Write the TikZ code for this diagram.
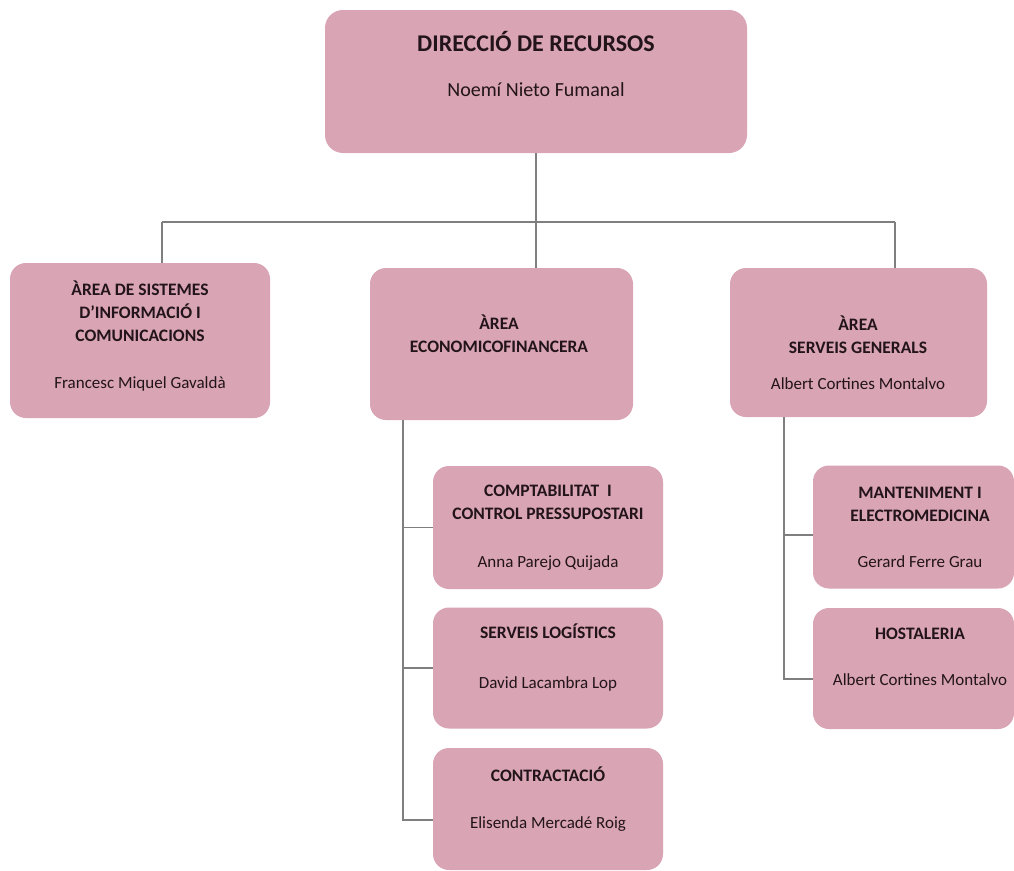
\documentclass[tikz,border=0pt]{standalone}
\usepackage{fontspec}
\setmainfont{Carlito}
\usetikzlibrary{calc}
\definecolor{boxpink}{HTML}{D9A4B4}
\definecolor{txtdark}{HTML}{22141A}
\definecolor{linegray}{HTML}{7F7F7F}
\begin{document}
\begin{tikzpicture}[x=1pt,y=-1pt,
  box/.style={draw=none, fill=boxpink, rounded corners=16pt, inner sep=0pt},
  txt/.style={align=center, text=txtdark, inner sep=0pt, font=\fontsize{17.5}{23}\selectfont},
  conn/.style={draw=linegray, line width=1.3pt}]
\useasboundingbox (0,0) rectangle (1014,870);
\fill[white] (0,0) rectangle (1014,870);
% connectors (drawn first, behind boxes)
\coordinate (busL) at (162,222);
\coordinate (busM) at (536,222);
\coordinate (busR) at (895,222);
\coordinate (eX) at (403,0);
\coordinate (sX) at (784,0);
% boxes
\node[box, rounded corners=18pt, minimum width=422pt, minimum height=143pt] (top) at (536,81.5) {};
\node[box, minimum width=260pt, minimum height=155pt] (A) at (140,340.5) {};
\node[box, minimum width=263pt, minimum height=152pt] (B) at (501.5,344) {};
\node[box, minimum width=257pt, minimum height=149pt] (C) at (858.5,342.5) {};
\node[box, minimum width=230pt, minimum height=123pt] (B1) at (548,527.5) {};
\node[box, minimum width=230pt, minimum height=121pt] (B2) at (548,668) {};
\node[box, minimum width=230pt, minimum height=122pt] (B3) at (548,809) {};
\node[box, minimum width=201pt, minimum height=123pt] (C1) at (913.5,527) {};
\node[box, minimum width=201pt, minimum height=121pt] (C2) at (913.5,668.5) {};
% texts
\node[txt, anchor=base, font=\fontsize{24}{28}\selectfont\bfseries] (topT) at (536,51) {DIRECCIÓ DE RECURSOS};
\node[txt, anchor=base, font=\fontsize{20}{24}\selectfont] (topN) at (536,96) {Noemí Nieto Fumanal};
\node[txt] (AT) at (140,336.5) {\textbf{ÀREA DE SISTEMES}\\\textbf{D’INFORMACIÓ I}\\\textbf{COMUNICACIONS}\\[24pt]\fontsize{17}{23}\selectfont Francesc Miquel Gavaldà};
\node[txt] (BT) at (499,334) {\textbf{ÀREA}\\\textbf{ECONOMICOFINANCERA}};
\node[txt] (CT) at (858,353) {\textbf{ÀREA}\\\textbf{SERVEIS GENERALS}\\[13pt]\fontsize{17}{23}\selectfont Albert Cortines Montalvo};
\node[txt] (B1T) at (548,527.5) {\textbf{COMPTABILITAT\ \ I}\\\textbf{CONTROL PRESSUPOSTARI}\\[25pt]\fontsize{17}{23}\selectfont Anna Parejo Quijada};
\node[txt] (B2T) at (548,657.5) {\textbf{SERVEIS LOGÍSTICS}\\[27pt]\fontsize{17}{23}\selectfont David Lacambra Lop};
\node[txt] (B3T) at (548,799.5) {\textbf{CONTRACTACIÓ}\\[24pt]\fontsize{17}{23}\selectfont Elisenda Mercadé Roig};
\node[txt] (C1T) at (920,527) {\textbf{MANTENIMENT I}\\\textbf{ELECTROMEDICINA}\\[23pt]\fontsize{17}{23}\selectfont Gerard Ferre Grau};
\node[txt] (C2T) at (920,657) {\textbf{HOSTALERIA}\\[23pt]\fontsize{17}{23}\selectfont Albert Cortines Montalvo};
% connectors
\begin{scope}[on background layer/.try]
\end{scope}
\draw[conn] (top.south) -- (busM);
\draw[conn] (busL) -- (busR);
\draw[conn] (busL) -- (busL |- A.north);
\draw[conn] (busM) -- (busM |- B.north);
\draw[conn] (busR) -- (busR |- C.north);
\draw[conn] (eX |- B.south) |- ($(B3.west)+(0,11)$);
\draw[conn] (eX |- B1.west) -- (B1.west);
\draw[conn] (eX |- B2.west) -- (B2.west);
\draw[conn] (sX |- C.south) |- ($(C2.west)+(0,10.5)$);
\draw[conn] (sX |- C1.west) ++(0,8) -- ($(C1.west)+(0,8)$);
\end{tikzpicture}
\end{document}
